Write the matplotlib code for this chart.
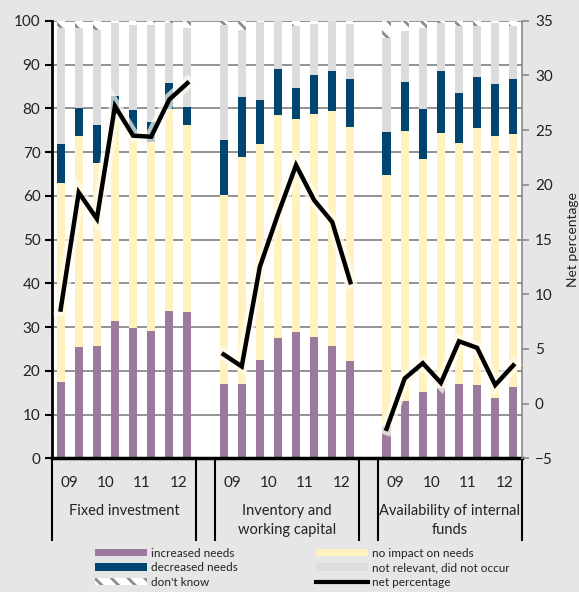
import matplotlib
matplotlib.use("Agg")
import matplotlib.pyplot as plt
import matplotlib.patheffects as pe
from matplotlib.patches import Patch
from matplotlib.lines import Line2D

plt.rcParams["font.family"] = ["Lato", "DejaVu Sans"]
plt.rcParams["hatch.linewidth"] = 2.0

# Survey answers per half-year, 2009H1 .. 2012H2, for each of the three factors
groups = ["Fixed investment", "Inventory and\nworking capital", "Availability of internal\nfunds"]
years = ["09", "10", "11", "12"]

increased = [17.5, 25.5, 25.7, 31.3, 29.7, 29.1, 33.6, 33.4,
             17.0, 17.1, 22.5, 27.4, 28.9, 27.8, 25.6, 22.2,
             7.5, 13.2, 15.2, 16.0, 17.1, 16.8, 13.8, 16.4]
no_impact = [45.4, 48.2, 41.7, 47.5, 44.7, 43.1, 46.3, 42.8,
             43.2, 51.8, 49.4, 51.1, 48.7, 50.8, 53.8, 53.5,
             57.3, 61.7, 53.1, 58.4, 55.0, 58.6, 59.9, 57.7]
decreased = [8.9, 6.3, 8.7, 4.1, 5.2, 4.7, 5.8, 4.2,
             12.6, 13.7, 10.1, 10.5, 7.0, 8.9, 9.1, 11.0,
             9.8, 11.0, 11.5, 14.1, 11.5, 11.7, 11.9, 12.7]
not_relevant = [26.5, 18.3, 21.9, 16.5, 19.4, 22.1, 13.9, 17.9,
                26.2, 15.3, 17.8, 11.0, 14.2, 11.8, 11.5, 12.5,
                21.5, 11.8, 18.5, 10.9, 15.1, 11.6, 13.8, 11.9]
dont_know = [1.7, 1.7, 2.0, 0.6, 1.0, 1.0, 0.4, 1.7,
             1.0, 2.1, 0.2, 0.0, 1.2, 0.7, 0.0, 0.8,
             3.9, 2.3, 1.7, 0.6, 1.3, 1.3, 0.6, 1.3]
net = [8.6, 19.3, 16.9, 27.2, 24.5, 24.4, 27.8, 29.3,
       4.5, 3.4, 12.5, 17.3, 21.8, 18.6, 16.6, 11.1,
       -2.3, 2.3, 3.7, 1.9, 5.7, 5.1, 1.7, 3.5]

C_INC = "#9b7a9d"
C_NOIMP = "#fff2bf"
C_DEC = "#00456f"
C_NOTREL = "#dcdcdc"
C_DK = "#8c8c8c"

# 8 bars per group, one empty slot between groups
x = [9 * g + i for g in range(3) for i in range(8)]

fig = plt.figure(figsize=(5.79, 5.92), dpi=100, facecolor="#e6e6e6")
ax = fig.add_axes([0.0891, 0.2258, 0.8131, 0.7391])
ax.set_facecolor("white")

w = 0.45
bottom = [0.0] * len(x)
for vals, col in [(increased, C_INC), (no_impact, C_NOIMP), (decreased, C_DEC), (not_relevant, C_NOTREL)]:
    ax.bar(x, vals, width=w, bottom=bottom, color=col, linewidth=0, zorder=2)
    bottom = [b + v for b, v in zip(bottom, vals)]
ax.bar(x, dont_know, width=w, bottom=bottom, color="white", edgecolor=C_DK,
       hatch="\\\\", linewidth=0, zorder=2)

ax.set_xlim(-0.5, 25.5)
ax.set_ylim(0, 100)
ax.set_yticks(range(0, 101, 10))
ax.set_xticks([])
ax.yaxis.grid(True, color="#8a8a8a", linewidth=1.3)
ax.set_axisbelow(True)
for s in ["top", "right"]:
    ax.spines[s].set_visible(False)
ax.spines["left"].set_linewidth(2)
ax.spines["bottom"].set_linewidth(2.5)
ax.tick_params(axis="y", direction="out", length=5, width=1.5, labelsize=11,
               labelcolor="#222222", pad=3)

ax2 = ax.twinx()
ax2.set_ylim(-5, 35)
ax2.set_yticks(range(-5, 36, 5))
for s in ["top", "left", "bottom"]:
    ax2.spines[s].set_visible(False)
ax2.spines["right"].set_color("#8a8a8a")
ax2.spines["right"].set_linewidth(1.2)
ax2.tick_params(axis="y", direction="out", length=5, width=1.2, color="#8a8a8a",
                labelsize=11, labelcolor="#222222", pad=4)
ax2.set_ylabel("Net percentage", fontsize=10, color="#222222", labelpad=10)

glow = [pe.Stroke(linewidth=9, foreground="#fffdf2", alpha=0.7), pe.Normal()]
for g in range(3):
    ax2.plot(x[8 * g:8 * g + 8], net[8 * g:8 * g + 8], color="black", lw=3.2,
             solid_joinstyle="miter", path_effects=glow, zorder=5)

# two-level category axis under the bars
trans = ax.get_xaxis_transform()
for s in [-0.5, 7.5, 8.5, 16.5, 17.5, 25.5]:
    ax.plot([s, s], [0, -0.187], transform=trans, clip_on=False, color="black", lw=1.5)
for g, name in enumerate(groups):
    for k, yr in enumerate(years):
        ax.text(9 * g + 0.5 + 2 * k, -0.056, yr, transform=trans, ha="center", va="center",
                fontsize=11, color="#222222")
    ax.text(9 * g + 3.5, -0.105, name, transform=trans, ha="center", va="top",
            fontsize=10.5, color="#222222", linespacing=1.45)

handles = [
    Patch(facecolor=C_INC, linewidth=0),
    Patch(facecolor=C_DEC, linewidth=0),
    Patch(facecolor="white", edgecolor=C_DK, hatch="\\\\", linewidth=0),
    Patch(facecolor=C_NOIMP, linewidth=0),
    Patch(facecolor=C_NOTREL, linewidth=0),
    Line2D([], [], color="black", lw=3),
]
labels = ["increased needs", "decreased needs", "don't know",
          "no impact on needs", "not relevant, did not occur", "net percentage"]
fig.legend(handles, labels, ncol=2, loc="upper left", bbox_to_anchor=(0.164, 0.075),
           frameon=False, fontsize=8.5, handlelength=4.4, handleheight=0.6,
           labelspacing=0.3, columnspacing=6.6, handletextpad=0.35,
           borderpad=0, borderaxespad=0, labelcolor="#222222")

fig.savefig("out.png", dpi=100, facecolor=fig.get_facecolor())
